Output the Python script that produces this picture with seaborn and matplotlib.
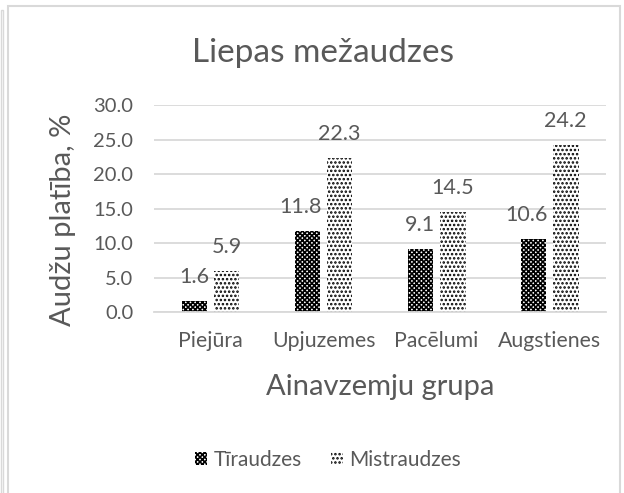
import matplotlib
matplotlib.use("Agg")
import matplotlib.pyplot as plt
import seaborn as sns
import pandas as pd
from matplotlib.patches import Patch, Rectangle

categories = ["Piejūra", "Upjuzemes", "Pacēlumi", "Augstienes"]
series_names = ["Tīraudzes", "Mistraudzes"]
tiraudzes = [1.6, 11.8, 9.1, 10.6]
mistraudzes = [5.9, 22.3, 14.5, 24.2]
yticks = [0, 5, 10, 15, 20, 25, 30]

df = pd.DataFrame({
    "group": categories * 2,
    "series": [series_names[0]] * 4 + [series_names[1]] * 4,
    "value": tiraudzes + mistraudzes,
})

sns.set_theme(style="white")
plt.rcParams["font.family"] = ["Lato", "DejaVu Sans"]
plt.rcParams["hatch.linewidth"] = 1.2
plt.rcParams["hatch.color"] = "black"

TEXT = "#595959"
GRID = "#d9d9d9"

fig = plt.figure(figsize=(6.24, 4.93), dpi=100)
ax = fig.add_axes([0.2468, 0.3671, 0.7244, 0.4199])

sns.barplot(data=df, x="group", y="value", hue="series", order=categories,
            hue_order=series_names, width=0.57, gap=0.2, palette=["white", "white"],
            edgecolor="white", linewidth=0, legend=False, ax=ax)

hatches = ["xxxxxxx", "...."]
for i, (cont, h) in enumerate(zip(ax.containers, hatches)):
    for p in cont:
        p.set_hatch(h)
        p.set_edgecolor("black")
        p.set_linewidth(0)
    anns = ax.bar_label(cont, fmt="%.1f", padding=10, fontsize=15.5, color=TEXT)
    if i == 0:
        # nudge wide labels left so they don't run into the neighbouring bar
        for a, v in zip(anns, tiraudzes):
            if v >= 10:
                dx, dy = a.xyann
                a.xyann = (dx - 5, dy)

ax.set_ylim(0, 30)
ax.set_xlim(-0.5, 3.5)
ax.set_yticks(yticks)
ax.set_yticklabels([f"{v:.1f}" for v in yticks])
ax.yaxis.grid(True, color=GRID, linewidth=1.3)
ax.set_axisbelow(True)
for s in ["top", "right", "left"]:
    ax.spines[s].set_visible(False)
ax.spines["bottom"].set_color(GRID)
ax.spines["bottom"].set_linewidth(1.3)
ax.tick_params(axis="y", length=0, pad=15, labelsize=14.5, labelcolor=TEXT)
ax.tick_params(axis="x", length=0, pad=14, labelsize=15.3, labelcolor=TEXT)
ax.set_xlabel("Ainavzemju grupa", fontsize=21, color=TEXT, va="center")
ax.xaxis.set_label_coords(0.5, (312 - 387) / 207)
ax.set_ylabel("Audžu platība, %", fontsize=21, color=TEXT, va="center")
ax.yaxis.set_label_coords((63 - 154) / 452, (312 - 220) / 207)

fig.text(322.5 / 624, (493 - 62) / 493, "Liepas mežaudzes", fontsize=24,
         color=TEXT, ha="center", va="baseline")

handles = [Patch(facecolor="white", edgecolor="black", hatch=h, linewidth=0, label=n)
           for h, n in zip(hatches, series_names)]
leg = fig.legend(handles=handles, loc="center", bbox_to_anchor=(328 / 624, 0.067), ncol=2,
                 frameon=False, fontsize=15, handlelength=0.6, handleheight=0.6,
                 handletextpad=0.3, columnspacing=1.4)
for t in leg.get_texts():
    t.set_color(TEXT)

fig.patches.append(Rectangle((8 / 624, -0.02), (620 - 8) / 624, 1 - 6 / 493 + 0.02,
                             transform=fig.transFigure, fill=False,
                             edgecolor="#d9d9d9", linewidth=1.5))
fig.patches.append(Rectangle((1 / 624, -0.02), 2 / 624, 1.0,
                             transform=fig.transFigure, fill=False,
                             edgecolor="#d9d9d9", linewidth=1.0))

fig.savefig("out.png", dpi=100)
